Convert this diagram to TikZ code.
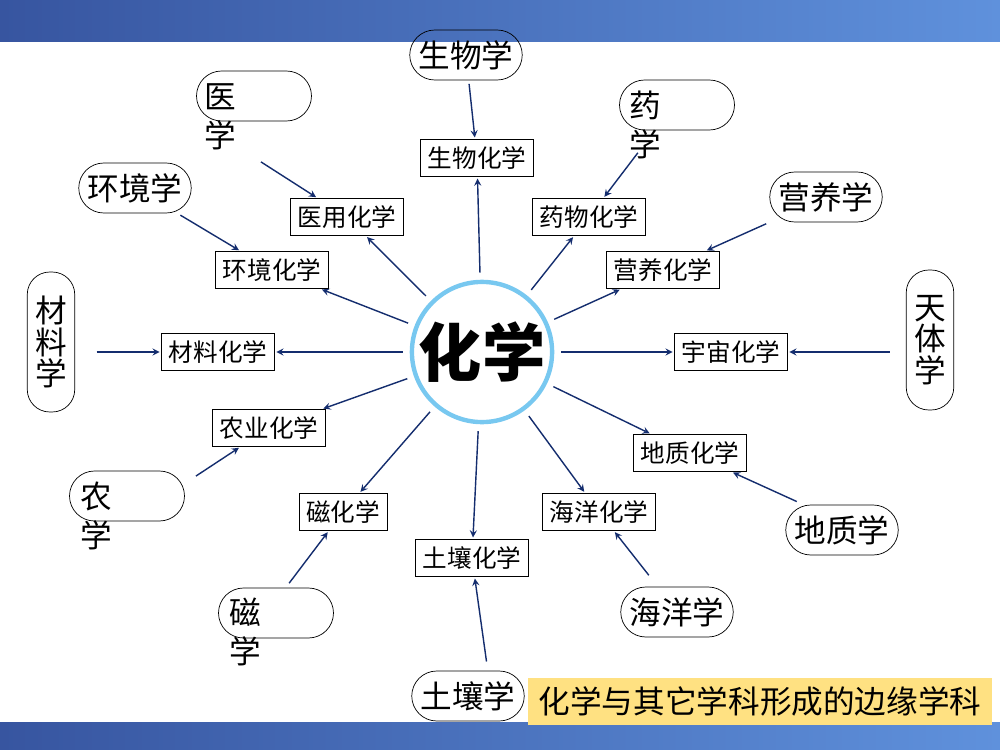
\documentclass[tikz,border=0pt]{standalone}
\usepackage{fontspec}
\setmainfont{Noto Sans CJK SC}
\usepackage{tikz}
\usetikzlibrary{calc,arrows}
\definecolor{bandL}{RGB}{55,85,160}
\definecolor{bandR}{RGB}{95,145,220}
\definecolor{linkC}{RGB}{20,45,110}
\definecolor{ringC}{RGB}{120,200,240}
\definecolor{capY}{RGB}{255,225,130}

\begin{document}
\begin{tikzpicture}[x=0.02cm,y=-0.02cm]
 \tikzstyle{arrow} = [->,thick,draw=linkC,>=stealth,shorten <=2pt,shorten >=1pt];
 \tikzstyle{inner} = [draw=black,fill=white,font=\fontsize{14}{16}\selectfont,inner sep=4pt,minimum height=0.68cm];
 \tikzstyle{field} = [draw=black,rounded corners=0.5cm,font=\fontsize{18}{18}\selectfont,inner sep=2pt,minimum width=2.25cm,minimum height=1cm];
 \tikzstyle{pill} = [draw=black,rounded corners=0.5cm,minimum width=2.3cm,minimum height=1cm];

 % background
 \useasboundingbox (0,0) rectangle (1000,750);
 \fill[white] (0,0) rectangle (1000,750);
 \shade[left color=bandL,right color=bandR] (0,0) rectangle (1000,42);
 \shade[left color=bandL,right color=bandR] (0,722) rectangle (1000,750);
 \fill[white] (993,42) rectangle (1000,722);

 % centre
 \node[circle,draw=ringC,line width=2.5pt,fill=white,minimum size=2.45cm,inner sep=0pt,font=\fontsize{36}{36}\selectfont\bfseries,name=chem] at (482,352) {化学};

 % inner boxes
 \node[inner,name=bio]  at (477,158) {生物化学};
 \node[inner,name=med]  at (347,217) {医用化学};
 \node[inner,name=drug] at (589,217) {药物化学};
 \node[inner,name=env]  at (272,270) {环境化学};
 \node[inner,name=nut]  at (663,270) {营养化学};
 \node[inner,name=mat]  at (218,352) {材料化学};
 \node[inner,name=cos]  at (731,352) {宇宙化学};
 \node[inner,name=agr]  at (269,428) {农业化学};
 \node[inner,name=geo]  at (690,453) {地质化学};
 \node[inner,name=mag]  at (343,512) {磁化学};
 \node[inner,name=sea]  at (599,512) {海洋化学};
 \node[inner,name=soil] at (472,558) {土壤化学};

 % outer fields
 \node[field,name=Bio]  at (466,55)  {生物学};
 \node[field,name=Env]  at (135,188) {环境学};
 \node[field,name=Nut]  at (826,197) {营养学};
 \node[field,name=Geo]  at (842,530) {地质学};
 \node[field,name=Sea]  at (677,612) {海洋学};
 \node[field,name=Soil] at (468,696) {土壤学};
 \node[field,rounded corners=0.45cm,minimum width=0.95cm,minimum height=2.8cm,align=center,name=Mat] at (51,342) {材\\料\\学};
 \node[field,rounded corners=0.45cm,minimum width=0.95cm,minimum height=2.8cm,align=center,name=Ast] at (930,340) {天\\体\\学};
 \node[pill,name=Med]  at (254,96)  {};
 \node[pill,name=Drug] at (677,105) {};
 \node[pill,name=Agr]  at (127,496) {};
 \node[pill,name=Mag]  at (276,613) {};
 \node[font=\fontsize{18}{22}\selectfont,align=center] at (220,117) {医\\学};
 \node[font=\fontsize{18}{22}\selectfont,align=center] at (645,125) {药\\学};
 \node[font=\fontsize{18}{22}\selectfont,align=center] at (96,516)  {农\\学};
 \node[font=\fontsize{18}{22}\selectfont,align=center] at (245,632) {磁\\学};

 % caption
 \node[fill=capY,minimum width=9.3cm,minimum height=0.94cm,font=\fontsize{18}{18}\selectfont,name=cap] at (760,701) {化学与其它学科形成的边缘学科};

 % free ends
 \coordinate (medT)  at (258,160);
 \coordinate (drugT) at (640,150);
 \coordinate (matT)  at (93,352);
 \coordinate (astT)  at (893,352);
 \coordinate (agrT)  at (193,478);
 \coordinate (magT)  at (287,586);
 \coordinate (geoT)  at (800,503);
 \coordinate (seaT)  at (651,578);
 \coordinate (soilT) at (487,665);

 % links
 \foreach \n in {bio,med,drug,env,nut,mat,cos,agr,geo,mag,sea,soil}
   \draw[arrow,shorten <=4pt] (chem) -- (\n);
 \draw[arrow] (Bio) -- (bio);
 \draw[arrow] (medT) -- (med);
 \draw[arrow] (drugT) -- (drug);
 \draw[arrow] (Env) -- (env);
 \draw[arrow] (Nut) -- (nut);
 \draw[arrow] (matT) -- (mat);
 \draw[arrow] (astT) -- (cos);
 \draw[arrow] (agrT) -- (agr);
 \draw[arrow] (geoT) -- (geo);
 \draw[arrow] (magT) -- (mag);
 \draw[arrow] (seaT) -- (sea);
 \draw[arrow] (soilT) -- (soil);
\end{tikzpicture}
\end{document}
